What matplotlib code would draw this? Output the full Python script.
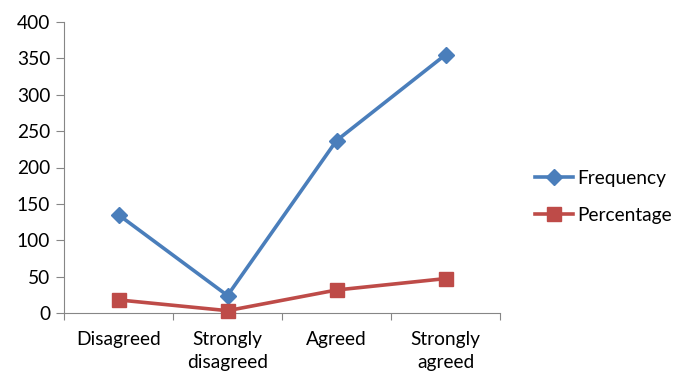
import matplotlib.pyplot as plt

categories = ['Disagreed', 'Strongly\ndisagreed', 'Agreed', 'Strongly\nagreed']
frequency = [135, 24, 237, 355]
percentage = [18.0, 3.2, 31.6, 47.3]

plt.rcParams['font.family'] = ['Lato', 'DejaVu Sans']

fig = plt.figure(figsize=(6.98, 3.91), dpi=100)
ax = fig.add_axes([64 / 698, 1 - 313 / 391, 436 / 698, 291 / 391])

x = range(len(categories))
ax.plot(x, frequency, color='#4A7EBB', lw=2.6, marker='D', ms=8.5,
        label='Frequency', clip_on=False, zorder=3)
ax.plot(x, percentage, color='#BE4B48', lw=2.6, marker='s', ms=9.5,
        label='Percentage', clip_on=False, zorder=3)

ax.set_xlim(-0.5, 3.5)
ax.set_ylim(0, 400)
ax.set_yticks(range(0, 401, 50))
ax.set_xticks([-0.5, 0.5, 1.5, 2.5, 3.5])
ax.set_xticklabels([])
ax.set_xticks(list(x), minor=True)
ax.set_xticklabels(categories, minor=True, fontsize=13.8, linespacing=1.45)
ax.tick_params(axis='x', which='minor', length=0, pad=13)
ax.tick_params(axis='x', which='major', length=5, color='#868686')
ax.tick_params(axis='y', length=6, color='#868686', labelsize=13.8, pad=4)

for s in ['top', 'right']:
    ax.spines[s].set_visible(False)
for s in ['left', 'bottom']:
    ax.spines[s].set_color('#868686')

ax.legend(loc='center left', bbox_to_anchor=(1.04, 0.40), frameon=False,
          fontsize=13.8, handlelength=2.0, handletextpad=0.2, labelspacing=1.05)

fig.savefig('out.png', dpi=100)
